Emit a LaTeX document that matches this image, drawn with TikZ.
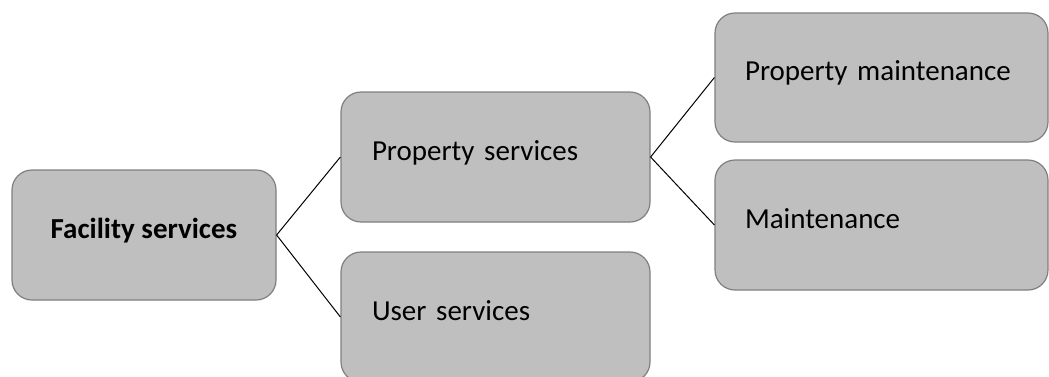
\documentclass[tikz,border=0pt]{standalone}
\usepackage{fontspec}
\setmainfont{Carlito}
\definecolor{boxfill}{HTML}{BFBFBF}
\definecolor{boxline}{HTML}{7F7F7F}
\begin{document}
\begin{tikzpicture}[x=1pt,y=-1pt,
  box/.style={draw=boxline, fill=boxfill, rounded corners=20pt, line width=1.2pt,
    minimum height=130pt, inner ysep=0pt, text height=0.644em, text depth=0pt,
    font=\fontsize{29}{34}\selectfont},
  leftbox/.style={box, inner xsep=31pt, align=left},
  link/.style={draw=black, line width=1pt}]
\useasboundingbox (0,0) rectangle (1049,376);

% tree of services
\node[box, minimum width=264pt, align=center, font=\fontsize{29}{34}\selectfont\bfseries] (fac) at (144,235) {Facility services};
\node[leftbox, text width=247pt] (ps) at (495.5,157) {Property services};
\node[leftbox, text width=247pt] (us) at (495.5,317) {User services};
\node[leftbox, text width=273pt, minimum height=129pt, inner xsep=30pt] (pm) at (881.5,77.5) {Property maintenance};
\node[leftbox, text width=273pt, inner xsep=30pt] (mt) at (881.5,225) {Maintenance};

% connectors
\draw[link] (fac.east) -- (ps.west);
\draw[link] (fac.east) -- (us.west);
\draw[link] (ps.east) -- (pm.west);
\draw[link] (ps.east) -- (mt.west);
\end{tikzpicture}
\end{document}
